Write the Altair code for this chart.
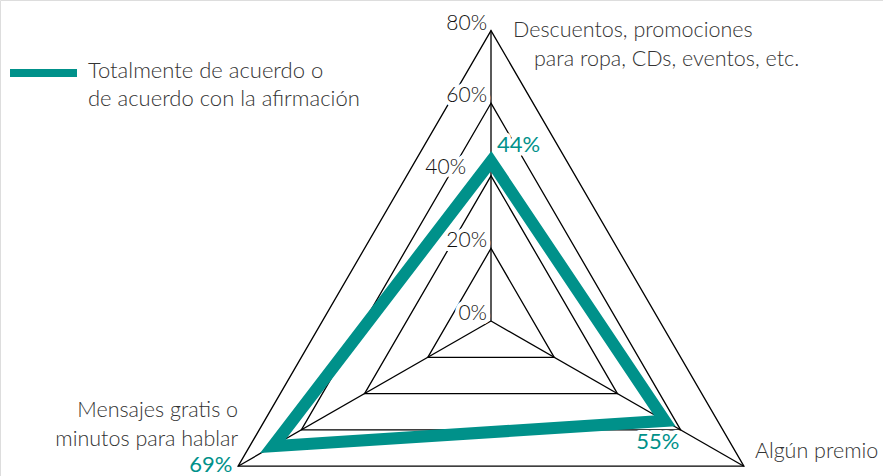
import altair as alt
import pandas as pd

# ---------------- data ----------------
categories = ["Descuentos, promociones para ropa, CDs, eventos, etc.",
              "Algún premio",
              "Mensajes gratis o minutos para hablar"]
cat_label_lines = [["Descuentos, promociones", "para ropa, CDs, eventos, etc."],
                   ["Algún premio"],
                   ["Mensajes gratis o", "minutos para hablar"]]
values = [44, 55, 69]
value_labels = ["44%", "55%", "69%"]
grid_levels = [20, 40, 60, 80]
tick_values = [0, 20, 40, 60, 80]
tick_labels = ["0%", "20%", "40%", "60%", "80%"]
series_lines = ["Totalmente de acuerdo o", "de acuerdo con la afirmación"]

TEAL = "#00918a"
FONT = "Lato"
KX, KY = 3.65, 3.63
CX, CY = 491, 321
W, H = 883, 476

series_df = pd.DataFrame({"idx": [0, 1, 2], "r": values, "label": value_labels,
                          "category": categories})
grid_df = pd.DataFrame([{"level": lv, "idx": i, "r": lv}
                        for lv in grid_levels for i in range(3)])
spoke_df = pd.DataFrame([{"idx": i, "r": r, "o": o}
                         for i in range(3) for o, r in enumerate([0, grid_levels[-1]])])
tick_df = pd.DataFrame({"r": tick_values, "label": tick_labels, "idx": 0})
cat_df = pd.DataFrame([{"idx": i, "line": j, "text": t, "r": grid_levels[-1]}
                       for i, lines in enumerate(cat_label_lines) for j, t in enumerate(lines)])
legend_df = pd.DataFrame({"text": ["\n".join(series_lines)]})

xscale = alt.Scale(domain=[-CX / KX, (W - CX) / KX], nice=False, zero=False)
yscale = alt.Scale(domain=[-(H - CY) / KY, CY / KY], nice=False, zero=False)


def polar(chart):
    return chart.transform_calculate(
        x="datum.r*sin(datum.idx*2*PI/3)",
        y="datum.r*cos(datum.idx*2*PI/3)",
    )


X = alt.X("x:Q", scale=xscale, axis=None)
Y = alt.Y("y:Q", scale=yscale, axis=None)

grid = polar(alt.Chart(grid_df)).mark_line(
    interpolate="linear-closed", color="#000", strokeWidth=1.3, strokeJoin="miter"
).encode(x=X, y=Y, detail="level:N", order="idx:Q")

spokes = polar(alt.Chart(spoke_df)).mark_line(color="#000", strokeWidth=1.3).encode(
    x=X, y=Y, detail="idx:N", order="o:Q")

series = polar(alt.Chart(series_df)).mark_line(
    interpolate="linear-closed", color=TEAL, strokeWidth=12, strokeJoin="miter",
    strokeMiterLimit=10
).encode(x=X, y=Y, order="idx:Q")

halos = []
texts = []

# tick labels
tick_base = polar(alt.Chart(tick_df))
for flt, dx, dy in [("datum.r != 40", -4, -7), ("datum.r == 40", -25, -8)]:
    for halo in (True, False):
        kw = dict(align="right", baseline="middle", dx=dx, dy=dy, font=FONT,
                  fontSize=21, fontWeight=300, color="#111")
        if halo:
            kw.update(color="white", stroke="white", strokeWidth=8, strokeJoin="round")
        m = tick_base.transform_filter(flt).mark_text(**kw).encode(x=X, y=Y, text="label:N")
        (halos if halo else texts).append(m)

# category labels
cat_pos = {(0, 0): ("left", 22, 0), (0, 1): ("left", 43, 29),
           (1, 0): ("left", 11, -14),
           (2, 0): ("right", 0, -55), (2, 1): ("right", 0, -26)}
for (i, j), (al, dx, dy) in cat_pos.items():
    texts.append(polar(alt.Chart(cat_df)).transform_filter(
        f"datum.idx == {i} && datum.line == {j}").mark_text(
        align=al, baseline="middle", dx=dx, dy=dy, font=FONT, fontSize=21.5,
        fontWeight=300, color="#333").encode(x=X, y=Y, text="text:N"))

# value labels
val_pos = {0: ("left", 6, -16), 1: ("center", -7, 21), 2: ("center", -62, 19)}
for i, (al, dx, dy) in val_pos.items():
    for halo in (True, False):
        kw = dict(align=al, baseline="middle", dx=dx, dy=dy, font=FONT,
                  fontSize=22, fontWeight=400, color=TEAL)
        if halo:
            kw.update(color="white", stroke="white", strokeWidth=8, strokeJoin="round")
        m = polar(alt.Chart(series_df)).transform_filter(
            f"datum.idx == {i}").mark_text(**kw).encode(x=X, y=Y, text="label:N")
        (halos if halo else texts).append(m)

# legend
legend_line = alt.Chart(legend_df).mark_rule(color=TEAL, strokeWidth=8).encode(
    x=alt.value(10), x2=alt.value(77), y=alt.value(73))
legend_text = alt.Chart(legend_df).mark_text(
    align="left", baseline="top", lineBreak="\n", lineHeight=28, font=FONT,
    fontSize=22, fontWeight=300, color="#333").encode(
    x=alt.value(88), y=alt.value(61), text="text:N")

layers = [grid, spokes] + halos + [series] + texts + [legend_line, legend_text]

chart = alt.layer(*layers).properties(
    width=W, height=H, autosize=alt.AutoSizeParams(type="none"), padding=0
).configure_view(stroke=None).configure(background="white")

chart.save("out.html", embed_options={"renderer": "svg", "actions": False})
